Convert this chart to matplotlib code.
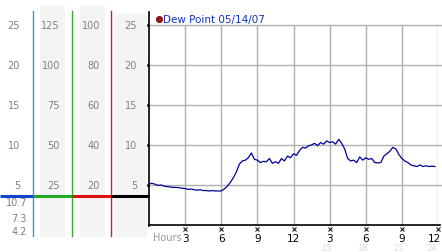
import matplotlib.pyplot as plt
import numpy as np

plt.rcParams["font.family"] = "DejaVu Sans"

# Dew point readings, every 15 minutes over the day (hours 0..24)
hours = np.arange(0, 24, 0.25)
dew_point = [
    5.15, 5.2, 5.1, 4.95, 5.0, 4.85, 4.8, 4.75, 4.7, 4.7, 4.65, 4.6,
    4.55, 4.45, 4.5, 4.4, 4.35, 4.4, 4.3, 4.3, 4.25, 4.3, 4.25, 4.25,
    4.25, 4.5, 4.85, 5.3, 5.9, 6.6, 7.6, 8.0, 8.1, 8.4, 9.0, 8.2,
    8.1, 7.8, 7.95, 7.9, 8.3, 7.7, 7.9, 7.7, 8.3, 8.0, 8.6, 8.4,
    8.9, 8.7, 9.3, 9.7, 9.6, 9.9, 10.0, 10.2, 9.9, 10.3, 10.1, 10.5,
    10.3, 10.4, 10.1, 10.7, 10.2, 9.5, 8.3, 8.0, 8.1, 7.8, 8.5, 8.1,
    8.4, 8.2, 8.3, 7.8, 7.75, 7.8, 8.6, 8.9, 9.2, 9.7, 9.5, 8.8,
    8.3, 8.0, 7.8, 7.5, 7.4, 7.3, 7.5, 7.3, 7.4, 7.3, 7.35, 7.3,
]
legend_label = "Dew Point 05/14/07"

x_ticks = [3, 6, 9, 12, 15, 18, 21, 24]
x_labels = ["3", "6", "9", "12", "3", "6", "9", "12"]
x_labels_24h = ["15", "18", "21", "24"]
y_ticks = [5, 10, 15, 20, 25]

# side scales (one column per unit)
col1_labels = ["5", "10", "15", "20", "25"]
col2_labels = ["25", "50", "75", "100", "125"]
col3_labels = ["20", "40", "60", "80", "100"]
col4_labels = ["5", "10", "15", "20", "25"]
stats_labels = ["10.7", "7.3", "4.2"]

W, H = 442, 253
fig = plt.figure(figsize=(W / 100, H / 100), dpi=100)

ymax = 26.6
bottom = 27 / H
height = (226 - 13) / H
ax = fig.add_axes([149 / W, bottom, (438 - 149) / W, height])
side = fig.add_axes([0, bottom, 149 / W, height])

# ---- main chart ----
ax.set_xlim(0, 24)
ax.set_ylim(0, ymax)
for y in y_ticks:
    ax.axhline(y, color="#b0b0b0", lw=1, xmax=1.01, clip_on=False, zorder=1)
ax.vlines(x_ticks, 0, 25, color="#b0b0b0", lw=1, zorder=1)
ax.plot(hours, dew_point, color="#000099", lw=0.9, zorder=3)

for s in ["top", "right"]:
    ax.spines[s].set_visible(False)
ax.spines["left"].set_linewidth(1.2)
ax.spines["bottom"].set_linewidth(1.2)
ax.spines["bottom"].set_bounds(0, 24.2)
ax.spines["left"].set_bounds(-0.1, ymax)
ax.set_xticks([])
ax.set_yticks([])

# small x-shaped tick marks
ax.plot(x_ticks, [-0.55] * len(x_ticks), "x", ms=2.5, mew=0.7, color="k", clip_on=False)
ax.plot([-0.2] * len(y_ticks), y_ticks, "x", ms=2.5, mew=0.7, color="k", clip_on=False)

for i, (xt, lab) in enumerate(zip(x_ticks, x_labels)):
    last = i == len(x_ticks) - 1
    ax.text(xt + (0.25 if last else 0), -1.0, lab, ha="right" if last else "center",
            va="top", fontsize=7.5, color="k")
for i, (xt, lab) in enumerate(zip(x_ticks[4:], x_labels_24h)):
    last = i == len(x_labels_24h) - 1
    ax.text(xt - (0.1 if last else 0.3), -2.25, lab, ha="right" if last else "center",
            va="top", fontsize=6, color="#dcdcdc")
ax.text(0.3, -0.9, "Hours", ha="left", va="top", fontsize=7, color="#999999")

ax.plot([0.85], [25.75], "o", ms=4.5, color="#aa1111", mec="#550000", mew=0.5, clip_on=False)
ax.text(1.2, 25.75, legend_label, ha="left", va="center", fontsize=7.5, color="#1133bb")

# ---- side scales ----
side.set_xlim(0, 149)
side.set_ylim(0, ymax)
side.axis("off")

band_x = [(40, 65), (80, 105), (115, 147)]
band_top = [27.4, 27.4, 26.3]
for (x0, x1), top in zip(band_x, band_top):
    side.fill_between([x0, x1], -1.5, top, color="#f4f4f4", lw=0, clip_on=False, zorder=0)

lines_x = [33, 72, 111]
line_colors = ["#3399cc", "#33aa33", "#cc2222"]
for lx, c in zip(lines_x, line_colors):
    side.plot([lx, lx], [-1.4, 26.7], color=c, lw=1, clip_on=False, zorder=2)

seg_x = [0, 33, 72, 111, 149]
seg_colors = ["#1144cc", "#22aa22", "#dd1111", "#000000"]
for i, c in enumerate(seg_colors):
    side.plot([seg_x[i], seg_x[i + 1]], [3.6, 3.6], color=c, lw=2.2,
              solid_capstyle="butt", clip_on=False, zorder=3)

col_x = [20, 60, 100, 137]
for cx, labs in zip(col_x, [col1_labels, col2_labels, col3_labels, col4_labels]):
    for y, lab in zip(y_ticks, labs):
        side.text(cx, y, lab, ha="right", va="center", fontsize=7, color="#808080")

for y, lab in zip([2.85, 0.85, -0.75], stats_labels):
    side.text(27, y, lab, ha="right", va="center", fontsize=7, color="#808080")

fig.savefig("out.png", dpi=100)
